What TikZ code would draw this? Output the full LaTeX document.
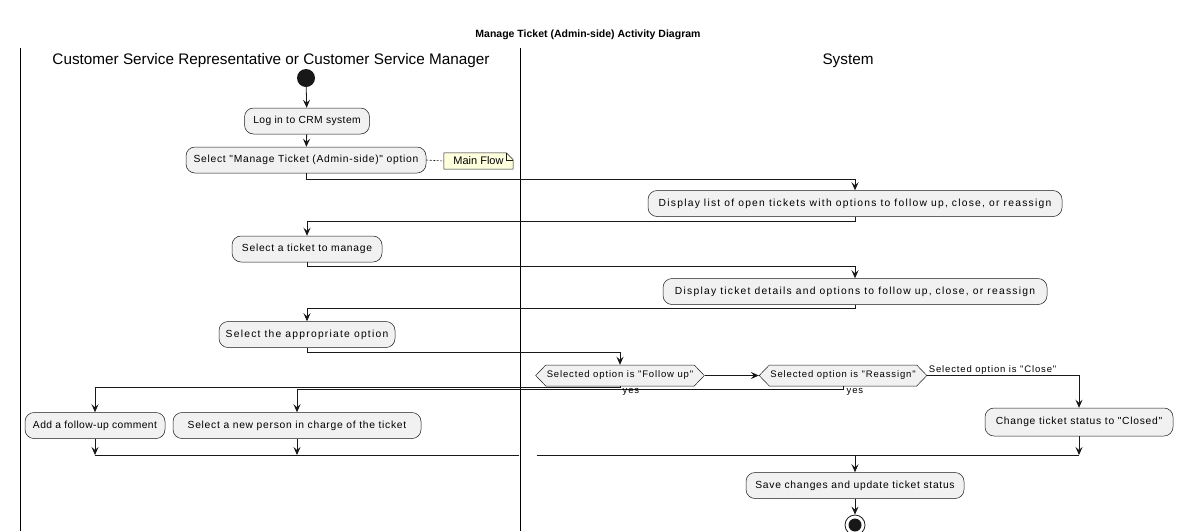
\documentclass[tikz,border=0pt]{standalone}
\usepackage{fontspec}
\setmainfont{Liberation Sans}
\newfontfamily\actTight[LetterSpace=4]{Liberation Sans}
\newfontfamily\actMid[LetterSpace=7]{Liberation Sans}
\newfontfamily\actWide[LetterSpace=12]{Liberation Sans}
\newfontfamily\guardFont[LetterSpace=9]{Liberation Sans}
\usetikzlibrary{arrows.meta,shapes.symbols,backgrounds}

\definecolor{edge}{HTML}{181818}
\definecolor{actfill}{HTML}{F1F1F1}
\definecolor{notefill}{HTML}{FEFFDD}

\tikzset{
  act/.style={draw=edge, line width=0.5pt, fill=actfill, rounded corners=9pt,
    minimum height=26pt, inner xsep=6pt, inner ysep=0pt,
    font=\actMid\fontsize{10.3}{12}\selectfont},
  tight/.style={font=\actTight\fontsize{10.3}{12}\selectfont},
  wide/.style={font=\actWide\fontsize{10.3}{12}\selectfont},
  choice/.style={signal, signal to=west and east, signal pointer angle=92,
    draw=edge, line width=0.5pt, fill=actfill, minimum height=21pt,
    inner xsep=1pt, inner ysep=0pt, font=\guardFont\fontsize{9.5}{11}\selectfont},
  flow/.style={draw=edge, line width=0.8pt, -{Stealth[length=8pt,width=7pt,inset=3pt]}},
  wire/.style={draw=edge, line width=0.8pt},
  lane/.style={draw=black, line width=1pt},
  lanehead/.style={font=\fontsize{15.3}{18}\selectfont},
  guard/.style={font=\guardFont\fontsize{9.5}{10}\selectfont, inner sep=0.5pt},
  notetext/.style={font=\fontsize{11}{13}\selectfont, inner sep=0pt,
    minimum width=69pt, minimum height=16pt},
}

\begin{document}
\begin{tikzpicture}[x=1pt,y=-1pt]
\useasboundingbox (0,0) rectangle (1177,531);
\clip (0,0) rectangle (1177,531);
\begin{scope}[on background layer]
  \fill[white] (0,0) rectangle (1177,531);
\end{scope}

% title and swimlanes
\node[font=\bfseries\fontsize{10.5}{12}\selectfont] (title) at (588,35) {Manage Ticket (Admin-side) Activity Diagram};
\draw[lane] (20,48) -- (20,531);
\draw[lane] (520,48) -- (520,531);
\node[lanehead] (laneA) at (271,61) {Customer Service Representative or Customer Service Manager};
\node[lanehead] (laneB) at (848,61) {System};

% activities
\node[circle, fill=edge, minimum size=18pt, inner sep=0pt] (start) at (306,78) {};
\node[act, tight, minimum width=125pt] (login) at (307,121) {Log in to CRM system};
\node[act, minimum width=240pt] (selmanage) at (306,160) {Select "Manage Ticket (Admin-side)" option};
\node[notetext] (note) at (478.5,161) {Main Flow};
\node[act, wide, minimum width=414pt] (displist) at (855,203.5) {Display list of open tickets with options to follow up, close, or reassign};
\node[act, minimum width=150pt] (selticket) at (307,249) {Select a ticket to manage};
\node[act, wide, minimum width=384pt] (details) at (855,291.5) {Display ticket details and options to follow up, close, or reassign};
\node[act, wide, minimum width=176pt] (selopt) at (307,334.5) {Select the appropriate option};
\node[choice] (qfollow) at (620,375.5) {Selected option is "Follow up"};
\node[choice] (qreassign) at (843,375.5) {Selected option is "Reassign"};
\node[act, tight, minimum width=140pt] (addc) at (95,425.5) {Add a follow-up comment};
\node[act, minimum width=248pt] (newp) at (297,425.5) {Select a new person in charge of the ticket};
\node[act, minimum width=188pt, minimum height=28pt] (closed) at (1079,422) {Change ticket status to "Closed"};
\node[act, minimum width=218pt] (save) at (855,485.5) {Save changes and update ticket status};
\node[circle, draw=edge, line width=0.8pt, fill=white, minimum size=20pt, inner sep=0pt] (finish) at (855,525) {};
\fill[edge] (finish.center) circle (6.5pt);

% note shape with folded corner
\begin{scope}[on background layer]
  \draw[draw=edge, line width=0.5pt, fill=notefill]
    (note.south west) -- (note.north west) -- ([xshift=-7pt]note.north east)
    -- ([yshift=-7pt]note.north east) -- (note.south east) -- cycle;
  \draw[draw=edge, line width=0.5pt]
    ([xshift=-7pt]note.north east) -- ([xshift=-7pt,yshift=-7pt]note.north east)
    -- ([yshift=-7pt]note.north east);
\end{scope}
\draw[draw=edge, line width=0.6pt, dash pattern=on 2pt off 1.5pt] (selmanage.east) -- (note.west);

% control flow
\draw[flow] (start) -- (login);
\draw[flow] (login) -- (selmanage);
\draw[flow] (selmanage.south) -- ++(0,6) -| (displist.north);
\draw[flow] (displist.south) -- ++(0,5) -| (selticket.north);
\draw[flow] (selticket.south) -- ++(0,4) -| (details.north);
\draw[flow] (details.south) -- ++(0,4) -| (selopt.north);
\draw[flow] (selopt.south) -- ++(0,5) -| (qfollow.north);
\draw[flow] (qfollow.east) -- (qreassign.west);
\draw[flow] (qfollow.south) -- ++(0,1.5) -| (addc.north);
\draw[flow] (qreassign.south) -- ++(0,3) -| (newp.north);
\draw[flow] (qreassign.east) -| (closed.north);

\node[guard, anchor=north west] (yes1) at ([xshift=2pt,yshift=-1.5pt]qfollow.south) {yes};
\node[guard, anchor=north west] (yes2) at ([xshift=3pt,yshift=-1.5pt]qreassign.south) {yes};
\node[guard, anchor=south west] (closelbl) at ([xshift=1pt]qreassign.east) {Selected option is "Close"};

% merge bars
\coordinate (mergeA) at (519,455);
\coordinate (mergeB) at (537,455);
\draw[wire] (addc.south |- mergeA) -- (mergeA);
\draw[wire] (mergeB) -- (closed.south |- mergeB);
\draw[flow] (addc.south) -- (addc.south |- mergeA);
\draw[flow] (newp.south) -- (newp.south |- mergeA);
\draw[flow] (closed.south) -- (closed.south |- mergeB);
\draw[flow] (save.north |- mergeB) -- (save.north);
\draw[flow] (save.south) -- (finish.north);
\end{tikzpicture}
\end{document}
